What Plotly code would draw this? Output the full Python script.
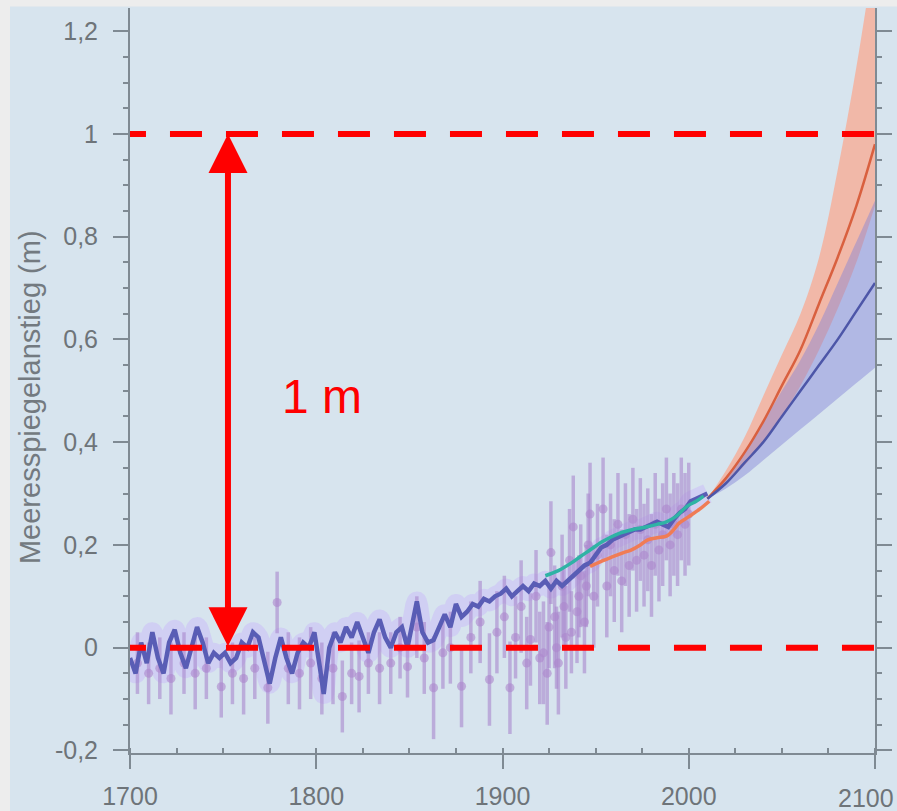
import plotly.graph_objects as go

# ---------------- data ----------------
hist_years = [1700, 1703, 1706, 1709, 1712, 1715, 1718, 1721, 1724, 1727, 1730, 1733, 1736, 1739,
              1742, 1745, 1748, 1751, 1754, 1757, 1760, 1763, 1766, 1769, 1772, 1775, 1778, 1781,
              1784, 1787, 1790, 1793, 1796, 1799, 1802, 1804, 1807, 1810, 1813, 1816, 1819, 1822,
              1825, 1828, 1831, 1834, 1837, 1840, 1843, 1846, 1849, 1852, 1854, 1857, 1860, 1863,
              1866, 1869, 1872, 1875, 1878, 1881, 1884, 1887, 1890, 1893, 1896, 1899, 1902, 1905,
              1908, 1911, 1914, 1917, 1920, 1923, 1926, 1929, 1932, 1935, 1938, 1941, 1944, 1947,
              1950, 1953, 1956, 1959, 1962, 1965, 1968, 1971, 1974, 1977, 1980, 1983, 1986, 1989,
              1992, 1995, 1998, 2001, 2004, 2007, 2010]
hist_level = [-0.02, -0.05, 0.01, -0.03, 0.03, -0.02, -0.05, 0.01, 0.035, -0.01, -0.04, 0.0, 0.04, 0.01,
              -0.03, -0.01, -0.02, -0.01, -0.03, -0.02, 0.01, 0.0, 0.03, 0.02, -0.03, -0.07, -0.02, 0.02,
              -0.02, -0.05, -0.01, 0.01, 0.0, 0.03, -0.04, -0.09, 0.0, 0.03, 0.01, 0.04, 0.02, 0.05,
              0.02, -0.01, 0.03, 0.055, 0.02, 0.0, 0.03, 0.04, 0.0, 0.06, 0.09, 0.03, 0.01, 0.015,
              0.04, 0.065, 0.04, 0.085, 0.06, 0.07, 0.085, 0.08, 0.095, 0.09, 0.1, 0.105, 0.115, 0.1,
              0.11, 0.12, 0.11, 0.125, 0.12, 0.13, 0.115, 0.13, 0.12, 0.13, 0.14, 0.15, 0.16, 0.165,
              0.18, 0.195, 0.2, 0.21, 0.215, 0.22, 0.225, 0.23, 0.23, 0.235, 0.24, 0.245, 0.24, 0.235,
              0.25, 0.262, 0.27, 0.285, 0.29, 0.295, 0.3]

teal_years = [1923, 1930, 1937, 1942, 1947, 1953, 1958, 1963, 1970, 1977, 1983, 1988, 1993, 1999, 2004, 2008]
teal_level = [0.14, 0.15, 0.165, 0.178, 0.19, 0.205, 0.215, 0.223, 0.23, 0.235, 0.24, 0.245, 0.255, 0.275, 0.285, 0.295]

orange_years = [1947, 1953, 1960, 1965, 1969, 1974, 1978, 1983, 1988, 1992, 1995, 2000, 2006, 2011]
orange_level = [0.158, 0.168, 0.178, 0.185, 0.19, 0.2, 0.21, 0.214, 0.217, 0.23, 0.243, 0.255, 0.27, 0.285]

pt_years = [1704, 1710, 1716, 1722, 1729, 1735, 1741, 1749, 1755, 1761, 1767, 1774, 1779, 1785,
            1791, 1797, 1803, 1809, 1814, 1819, 1823, 1828, 1834, 1840, 1845, 1849, 1854, 1858,
            1863, 1868, 1872, 1878, 1883, 1888, 1893, 1897, 1901, 1904, 1907, 1910, 1913, 1915,
            1918, 1920, 1922, 1924, 1926, 1928, 1930, 1932, 1934, 1936, 1938, 1940, 1942, 1944,
            1946, 1947, 1949, 1951, 1954, 1956, 1958, 1960, 1962, 1964, 1966, 1968, 1970, 1972,
            1974, 1976, 1978, 1980, 1982, 1984, 1986, 1988, 1990, 1992, 1994, 1996, 1998, 2000,
            1925, 1929, 1933, 1937, 1941, 1945]
pt_level = [-0.03, -0.05, -0.04, -0.06, -0.03, -0.05, -0.04, -0.076, -0.05, -0.06, -0.04, -0.078, 0.088, -0.04,
            -0.05, -0.03, -0.06, -0.04, -0.095, -0.05, -0.056, -0.03, -0.04, -0.03, 0.0, -0.037, 0.04, -0.02,
            -0.078, -0.01, 0.0, -0.075, 0.02, 0.05, -0.062, 0.03, 0.06, -0.078, 0.02, 0.08, -0.03, 0.016,
            0.1, -0.02, -0.01, -0.05, 0.185, 0.06, -0.03, 0.12, 0.02, 0.17, 0.235, 0.07, 0.14, 0.05,
            0.2, 0.26, 0.1, 0.18, 0.27, 0.12, 0.2, 0.15, 0.24, 0.13, 0.22, 0.16, 0.25, 0.17,
            0.23, 0.18, 0.21, 0.16, 0.24, 0.19, 0.22, 0.27, 0.2, 0.24, 0.22, 0.27, 0.24, 0.26,
            0.04, 0.0, 0.08, 0.03, 0.1, 0.12]
pt_err = [0.06, 0.06, 0.06, 0.07, 0.06, 0.07, 0.06, 0.06, 0.06, 0.07, 0.06, 0.07, 0.06, 0.07,
          0.07, 0.07, 0.07, 0.07, 0.07, 0.06, 0.07, 0.06, 0.07, 0.06, 0.06, 0.06, 0.06, 0.07,
          0.1, 0.07, 0.07, 0.08, 0.07, 0.08, 0.09, 0.08, 0.08, 0.09, 0.08, 0.09, 0.09, 0.09,
          0.09, 0.09, 0.1, 0.1, 0.1, 0.1, 0.1, 0.1, 0.1, 0.1, 0.1, 0.1, 0.1, 0.1,
          0.1, 0.1, 0.1, 0.1, 0.1, 0.1, 0.1, 0.1, 0.1, 0.1, 0.1, 0.1, 0.1, 0.1,
          0.1, 0.1, 0.1, 0.1, 0.1, 0.1, 0.1, 0.1, 0.1, 0.1, 0.1, 0.1, 0.1, 0.1,
          0.08, 0.08, 0.08, 0.08, 0.08, 0.08]

proj_years = [2010, 2020, 2030, 2040, 2050, 2060, 2070, 2080, 2090, 2100]
red_mid = [0.29, 0.33, 0.38, 0.44, 0.51, 0.58, 0.67, 0.76, 0.86, 0.98]
red_hi = [0.29, 0.345, 0.41, 0.49, 0.57, 0.65, 0.76, 0.93, 1.13, 1.36]
red_lo = [0.29, 0.32, 0.355, 0.40, 0.45, 0.51, 0.58, 0.66, 0.75, 0.86]
blue_mid = [0.29, 0.32, 0.36, 0.40, 0.45, 0.50, 0.55, 0.60, 0.655, 0.71]
blue_hi = [0.29, 0.33, 0.38, 0.44, 0.50, 0.56, 0.63, 0.71, 0.79, 0.87]
blue_lo = [0.29, 0.31, 0.335, 0.365, 0.395, 0.425, 0.455, 0.485, 0.515, 0.545]

ref_levels = [0, 1]
ref_years = [1691.4, 2105]
arrow_year = 1752.6
label_text = "1 m"
label_pos = (1803, 0.488)

x_ticks = [1700, 1800, 1900, 2000, 2100]
x_ticktext = ["1700", "1800", "1900", "2000", ""]   # last label placed as annotation (edge)
x_last_label = "2100"
y_ticks = [-0.2, 0, 0.2, 0.4, 0.6, 0.8, 1.0, 1.2]
y_ticktext = ["-0,2", "0", "0,2", "0,4", "0,6", "0,8", "1", "1,2"]
y_title = "Meeresspiegelanstieg (m)"

# ---------------- figure ----------------
PANEL = "#d7e4ee"
AXIS = "#7f8a93"
TICKFONT = dict(family="Liberation Sans, Arial, sans-serif", size=25, color="#6e7479")

fig = go.Figure()

# haze around reconstruction
fig.add_trace(go.Scatter(x=hist_years, y=hist_level, mode="lines",
                         line=dict(color="rgba(205,198,245,0.7)", width=20, shape="spline"),
                         hoverinfo="skip", showlegend=False))

# projection bands
fig.add_trace(go.Scatter(x=proj_years, y=red_lo, mode="lines", line=dict(width=0, shape="spline"),
                         showlegend=False, hoverinfo="skip"))
fig.add_trace(go.Scatter(x=proj_years, y=red_hi, mode="lines", line=dict(width=0, shape="spline"),
                         fill="tonexty", fillcolor="rgba(255,160,130,0.65)", showlegend=False))
fig.add_trace(go.Scatter(x=proj_years, y=blue_lo, mode="lines", line=dict(width=0, shape="spline"),
                         showlegend=False, hoverinfo="skip"))
fig.add_trace(go.Scatter(x=proj_years, y=blue_hi, mode="lines", line=dict(width=0, shape="spline"),
                         fill="tonexty", fillcolor="rgba(130,130,215,0.45)", showlegend=False))

# tide gauge points with error bars
fig.add_trace(go.Scatter(x=pt_years, y=pt_level, mode="markers",
                         marker=dict(color="rgba(172,135,205,0.62)", size=9),
                         error_y=dict(type="data", array=pt_err, color="rgba(168,135,205,0.6)",
                                      thickness=3.5, width=0),
                         showlegend=False))

# reconstruction line
fig.add_trace(go.Scatter(x=hist_years, y=hist_level, mode="lines",
                         line=dict(color="#595db5", width=4.5), showlegend=False))
fig.add_trace(go.Scatter(x=teal_years, y=teal_level, mode="lines",
                         line=dict(color="#2fb3a5", width=3.5, shape="spline"), showlegend=False))
fig.add_trace(go.Scatter(x=orange_years, y=orange_level, mode="lines",
                         line=dict(color="#f07c55", width=3.5, shape="spline"), showlegend=False))

# projection central lines
fig.add_trace(go.Scatter(x=proj_years, y=red_mid, mode="lines",
                         line=dict(color="#d9603f", width=2.5, shape="spline"), showlegend=False))
fig.add_trace(go.Scatter(x=proj_years, y=blue_mid, mode="lines",
                         line=dict(color="#4d56a8", width=2.5, shape="spline"), showlegend=False))

# red dashed reference lines
for lvl in ref_levels:
    fig.add_trace(go.Scatter(x=ref_years, y=[lvl, lvl], mode="lines",
                             line=dict(color="#ff0000", width=6, dash="32px,24px"),
                             showlegend=False, hoverinfo="skip"))

# double arrow
fig.add_annotation(x=arrow_year, y=ref_levels[1], ax=arrow_year, ay=ref_levels[0],
                   xref="x", yref="y", axref="x", ayref="y", text="",
                   showarrow=True, arrowhead=2, startarrowhead=2, arrowside="end+start",
                   arrowwidth=6, arrowsize=1.3, startarrowsize=1.3, arrowcolor="#ff0000")
fig.add_annotation(x=label_pos[0], y=label_pos[1], xref="x", yref="y", text=label_text,
                   showarrow=False, font=dict(family="Liberation Sans, Arial, sans-serif",
                                              size=48, color="#ff0000"))

# last x tick label, kept inside the picture
fig.add_annotation(x=1.0281, y=-0.0385, xref="paper", yref="paper", text=x_last_label,
                   xanchor="right", yanchor="top", showarrow=False, font=TICKFONT)

# y axis title
fig.add_annotation(x=-0.134, y=0.478, xref="paper", yref="paper", text=y_title, textangle=-90,
                   xanchor="center", yanchor="middle", showarrow=False,
                   font=dict(family="Liberation Sans, Arial, sans-serif", size=29, color="#737a80"))

# outer panel
fig.add_shape(type="rect", xref="paper", yref="paper", x0=-0.1611, x1=1.04, y0=-0.09, y1=1.0021,
              fillcolor=PANEL, line=dict(width=0), layer="below")

fig.update_layout(
    width=897, height=811,
    margin=dict(l=130, r=22, t=8, b=58, autoexpand=False),
    paper_bgcolor="#ededed", plot_bgcolor=PANEL,
    showlegend=False,
    xaxis=dict(range=[1700, 2100], tickvals=x_ticks, ticktext=x_ticktext, ticks="outside",
               ticklen=14, tickwidth=2,
               tickcolor=AXIS, showline=True, linecolor=AXIS, linewidth=2, showgrid=False,
               zeroline=False, tickfont=TICKFONT, ticklabelstandoff=6, automargin=False,
               ticklabeloverflow="allow",
               minor=dict(dtick=25, tick0=1700, ticks="inside", ticklen=5, tickcolor=AXIS, tickwidth=1.5)),
    yaxis=dict(range=[-0.205, 1.245], tickvals=y_ticks, ticktext=y_ticktext, ticks="outside",
               ticklen=15, tickwidth=2, tickcolor=AXIS, showline=True, linecolor=AXIS, linewidth=2,
               mirror="ticks", showgrid=False, zeroline=False, tickfont=TICKFONT,
               ticklabelstandoff=10, automargin=False, ticklabeloverflow="allow",
               minor=dict(dtick=0.05, tick0=0, ticks="outside", ticklen=5, tickcolor=AXIS, tickwidth=1.5)),
)

fig.write_html("out.html", config={"displayModeBar": False},
               post_script="document.body.style.margin='0';document.body.style.overflow='hidden';")
